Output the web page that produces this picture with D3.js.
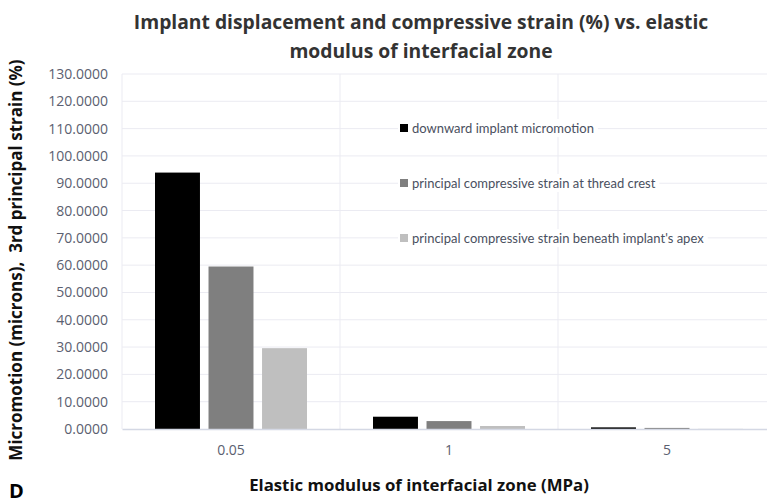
<!DOCTYPE html>
<html>
<head>
<meta charset="utf-8">
<script src="https://cdn.jsdelivr.net/npm/d3@7"></script>
<style>
  body { margin: 0; background: #fff; }
  svg { display: block; font-family: Lato, "Open Sans", sans-serif; }
</style>
</head>
<body>
<svg width="767" height="503"></svg>
<script>
// data
var categories = ['0.05', '1', '5'];
var seriesNames = [
  'downward implant micromotion',
  'principal compressive strain at thread crest',
  "principal compressive strain beneath implant's apex"
];
var micromotion = [93.9, 4.5, 0.6];
var strainCrest = [59.5, 2.9, 0.4];
var strainApex = [29.6, 1.1, 0.05];
var yTicks = [0, 10, 20, 30, 40, 50, 60, 70, 80, 90, 100, 110, 120, 130];
var colors = ['#000000', '#7f7f7f', '#bfbfbf'];

var series = [micromotion, strainCrest, strainApex];

var svg = d3.select('svg');
var plotLeft = 122, plotRight = 776, plotTop = 74, plotBottom = 429;

var x0 = d3.scaleBand().domain(categories).range([plotLeft, plotRight]);
var x1 = d3.scaleBand().domain(d3.range(series.length))
    .range([33, x0.bandwidth() - 33]).paddingInner(0.16);
var y = d3.scaleLinear().domain([0, 130]).range([plotBottom, plotTop]);

// grid
svg.append('g').selectAll('line')
  .data(yTicks.slice(1))
  .enter().append('line')
    .attr('x1', plotLeft).attr('x2', plotRight)
    .attr('y1', function(d) { return y(d); })
    .attr('y2', function(d) { return y(d); })
    .attr('stroke', '#ebebf2');

svg.append('g').selectAll('line')
  .data(categories.concat(['end']))
  .enter().append('line')
    .attr('x1', function(d, i) { return plotLeft + i * x0.bandwidth(); })
    .attr('x2', function(d, i) { return plotLeft + i * x0.bandwidth(); })
    .attr('y1', plotTop).attr('y2', plotBottom)
    .attr('stroke', '#ebebf2');

// bars
var groups = svg.append('g').selectAll('g')
  .data(categories)
  .enter().append('g')
    .attr('transform', function(d) { return 'translate(' + x0(d) + ',0)'; });

groups.selectAll('rect')
  .data(function(d, ci) { return series.map(function(s, si) { return {si: si, v: s[ci]}; }); })
  .enter().append('rect')
    .attr('x', function(d) { return x1(d.si); })
    .attr('width', x1.bandwidth())
    .attr('y', function(d) { return y(d.v); })
    .attr('height', function(d) { return plotBottom - y(d.v); })
    .attr('fill', function(d) { return colors[d.si]; });

// axes
var yAxis = d3.axisLeft(y).tickValues(yTicks).tickFormat(d3.format('.4f')).tickSize(0).tickPadding(14);
var gy = svg.append('g').attr('transform', 'translate(' + plotLeft + ',0)').call(yAxis);
gy.select('.domain').remove();
gy.selectAll('text').attr('fill', '#5b6070').style('font-size', '14px').style('font-family', '"Open Sans", sans-serif');

var xAxis = d3.axisBottom(x0).tickSize(0).tickPadding(16);
var gx = svg.append('g').attr('transform', 'translate(0,' + plotBottom + ')').call(xAxis);
gx.select('.domain').attr('stroke', '#d4d8e4').attr('stroke-width', 1.5);
gx.selectAll('text').attr('fill', '#5b6070').style('font-size', '14px').style('font-family', '"Open Sans", sans-serif');

// legend
var legend = svg.append('g').attr('transform', 'translate(400,128)');
var items = legend.selectAll('g')
  .data(seriesNames)
  .enter().append('g')
    .attr('transform', function(d, i) { return 'translate(0,' + i * 55 + ')'; });
var labels = items.append('text')
    .attr('x', 12).attr('dy', '0.35em')
    .attr('fill', '#4a5060')
    .style('font-size', '13px')
    .text(function(d) { return d; });
items.insert('rect', 'text')
    .attr('x', -2).attr('y', -9)
    .attr('width', function(d, i) { return labels.nodes()[i].getComputedTextLength() + 18; })
    .attr('height', 18)
    .attr('fill', '#fff');
items.append('rect')
    .attr('x', 0).attr('y', -4).attr('width', 8).attr('height', 8)
    .attr('fill', function(d, i) { return colors[i]; });

// titles
var title = svg.append('text')
    .attr('text-anchor', 'middle')
    .attr('fill', '#333')
    .style('font-family', '"Open Sans", sans-serif')
    .style('font-size', '19.3px').style('font-weight', 'bold');
title.append('tspan').attr('x', 421).attr('y', 29).text('Implant displacement and compressive strain (%) vs. elastic');
title.append('tspan').attr('x', 421).attr('y', 58).text('modulus of interfacial zone');

svg.append('text')
    .attr('x', 419).attr('y', 491)
    .attr('text-anchor', 'middle')
    .attr('fill', '#111')
    .style('font-family', '"Open Sans", sans-serif')
    .style('font-size', '16.8px').style('font-weight', 'bold')
    .text('Elastic modulus of interfacial zone (MPa)');

svg.append('text')
    .attr('transform', 'translate(22,260) rotate(-90)')
    .attr('text-anchor', 'middle')
    .attr('fill', '#111')
    .style('font-family', '"Open Sans", sans-serif')
    .style('font-size', '17px').style('font-weight', 'bold')
    .attr('xml:space', 'preserve')
    .text('Micromotion (microns),  3rd principal strain (%)');

svg.append('text')
    .attr('x', 9).attr('y', 498)
    .attr('fill', '#000')
    .style('font-family', '"Open Sans", sans-serif')
    .style('font-size', '20px').style('font-weight', 'bold')
    .text('D');
</script>
</body>
</html>
